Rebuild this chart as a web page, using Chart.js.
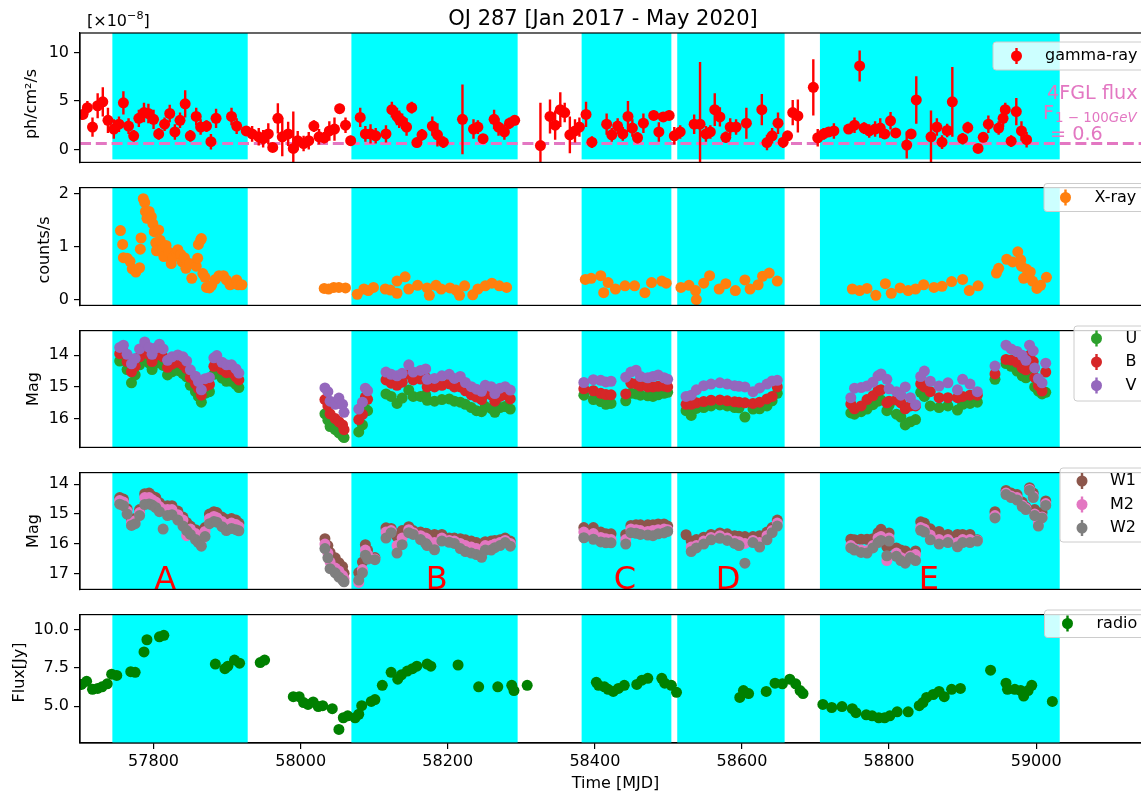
<!DOCTYPE html>
<html>
<head>
<meta charset="utf-8">
<title>OJ 287 multiwavelength light curve</title>
<script src="https://cdn.jsdelivr.net/npm/chart.js@4.4.1/dist/chart.umd.min.js"></script>
<style>
  body { margin: 0; background: #fff; }
  #fig { position: relative; width: 1141px; height: 791px; overflow: hidden; background: #fff; }
  #fig canvas { position: absolute; left: 0; }
</style>
</head>
<body>
<div id="fig"></div>
<script>
// shaded periods A-E (MJD)
const spanStart = [57744, 58069, 58382, 58512, 58706];
const spanEnd   = [57928, 58295, 58504, 58658, 59032];
const spanNames = ['A', 'B', 'C', 'D', 'E'];
const spanLabelMJD = [57816, 58185, 58441, 58581, 58854];
const xTicks = [57800, 58000, 58200, 58400, 58600, 58800, 59000];
const xMin = 57700, xMax = 59150;
const fglFlux = 0.6; // 4FGL flux, 1e-8 ph/cm2/s

// Fermi-LAT gamma-ray flux [1e-8 ph/cm2/s]
const gammaMJD = [57704,57710,57717,57724,57731,57738,57746,57753,57759,57766,
  57773,57780,57787,57793,57800,57807,57815,57822,57829,57836,
  57843,57850,57858,57864,57872,57878,57885,57906,57913,57926,
  57934,57943,57949,57956,57962,57969,57975,57983,57990,57996,
  58004,58011,58018,58025,58032,58039,58046,58053,58061,58068,
  58081,58088,58095,58102,58116,58124,58131,58134,58138,58144,
  58151,58158,58165,58179,58186,58194,58220,58235,58241,58248,
  58263,58269,58277,58284,58291,58326,58339,58346,58353,58359,
  58366,58373,58379,58388,58396,58416,58423,58431,58438,58445,
  58451,58458,58466,58480,58487,58493,58501,58508,58516,58535,
  58543,58551,58557,58563,58570,58578,58584,58592,58606,58627,
  58634,58641,58649,58656,58662,58669,58676,58697,58703,58711,
  58718,58725,58745,58753,58760,58766,58773,58781,58788,58794,
  58802,58809,58824,58830,58837,58857,58865,58872,58879,58886,
  58900,58907,58921,58928,58935,58949,58955,58958,58966,58973,
  58980,58987];
const gammaFlux = [3.6,4.3,2.3,4.5,4.9,3.0,2.1,2.6,4.8,2.4,
  1.4,3.2,3.8,3.7,3.1,1.6,2.6,3.7,1.8,3.0,
  4.7,1.4,3.4,2.3,2.4,0.8,3.2,3.4,2.4,1.9,
  1.6,1.3,1.1,1.6,0.2,3.2,1.3,1.6,0.1,0.9,
  0.6,0.9,2.4,1.3,1.2,1.9,2.1,4.2,2.5,0.9,
  3.3,1.6,1.6,1.4,1.6,4.1,3.4,3.1,2.9,2.3,
  4.3,0.7,1.5,2.4,1.5,0.75,3.1,2.1,2.3,1.1,
  3.1,2.3,1.8,2.7,3.0,0.4,3.4,2.5,4.1,3.8,
  1.5,1.9,2.3,3.6,0.75,2.6,1.5,2.4,1.6,3.4,
  2.2,1.2,2.7,3.5,1.8,3.35,3.5,1.4,1.8,2.6,
  2.6,1.6,1.8,4.1,3.35,1.25,2.3,2.3,2.7,4.1,
  0.7,1.4,2.7,0.75,1.4,3.8,3.45,6.4,1.2,1.6,
  1.8,1.9,2.1,2.5,8.6,2.2,1.9,2.1,2.2,1.6,
  2.95,1.7,0.45,1.6,5.1,1.3,2.3,0.75,1.95,4.9,
  1.1,2.25,0.1,1.25,2.6,2.2,3.2,4.1,0.85,3.9,
  1.9,1.0];
const gammaErr = [0.5,0.7,1.0,1.3,1.5,1.3,1.0,0.8,1.2,0.8,
  0.6,0.9,1.0,1.0,1.0,0.6,0.7,0.9,0.8,0.8,
  1.4,0.6,0.9,0.8,0.6,0.8,1.0,0.9,0.8,0.5,
  0.8,0.9,0.9,1.1,0.3,1.55,2.0,1.25,3.8,1.0,
  0.8,0.9,0.6,0.8,0.6,1.0,1.2,0.5,0.8,0.5,
  1.0,0.8,1.0,0.8,0.9,0.8,0.9,0.9,0.8,0.9,
  0.6,0.5,0.6,1.0,1.2,0.6,3.6,1.0,0.7,0.5,
  1.0,0.9,0.8,0.6,0.5,4.4,1.75,1.5,1.8,1.0,
  1.9,1.2,1.0,1.3,0.6,1.1,0.7,0.8,0.7,1.6,
  0.9,0.6,1.0,0.5,1.0,0.5,0.5,0.9,0.7,1.0,
  6.4,0.8,0.7,1.7,1.0,0.6,0.9,0.8,1.6,1.6,
  0.8,0.8,1.1,0.6,0.5,1.3,1.7,2.9,0.9,0.6,
  0.5,0.8,0.5,0.8,1.6,0.6,0.7,0.8,1.0,0.5,
  0.9,0.5,1.4,0.4,2.45,2.7,0.9,0.7,0.7,3.6,
  0.6,0.6,0.3,0.5,0.9,0.7,0.9,0.7,0.6,1.4,
  1.0,0.8];

// Swift-XRT count rate
const xrayMJD = [57755,57758,57759,57764,57768,57771,57776,57781,57782,57783,
  57786,57788,57789,57791,57794,57797,57799,57801,57803,57804,
  57807,57809,57812,57814,57817,57821,57824,57826,57831,57833,
  57837,57839,57842,57844,57849,57852,57858,57860,57861,57864,
  57865,57867,57870,57872,57876,57879,57884,57889,57895,57899,
  57904,57908,57913,57915,57920,
  58032,58038,58045,58052,58061,58077,58086,58092,58099,58115,
  58122,58131,58131,58142,58147,58159,58172,58175,58184,58191,
  58203,58211,58216,58223,58234,58241,58251,58260,58270,58280,
  58387,58395,58408,58412,58418,58428,58441,58454,58468,58477,58491,58497,
  58517,58528,58537,58538,58548,58556,58569,58578,58591,58604,58611,58622,58628,58637,58648,
  58750,58760,58770,58782,58795,58803,58815,58826,58836,58847,
  58861,58872,58885,58900,58909,58921,58946,58949,58960,58968,
  58975,58979,58980,58983,58987,58992,58995,59001,59006,59014];
const xrayRate = [1.30,1.04,0.79,0.78,0.72,0.58,0.52,0.60,0.95,1.16,
  1.90,1.83,1.66,1.53,1.66,1.56,1.43,1.28,1.07,0.92,
  1.31,1.12,0.94,0.81,1.02,0.89,0.68,0.79,0.89,0.94,
  0.85,0.71,0.79,0.59,0.68,0.40,0.63,0.78,1.04,1.12,
  1.15,0.49,0.42,0.23,0.22,0.27,0.38,0.45,0.45,0.37,
  0.28,0.30,0.37,0.28,0.28,
  0.21,0.20,0.23,0.23,0.22,0.10,0.20,0.17,0.23,0.20,
  0.18,0.35,0.12,0.43,0.20,0.27,0.22,0.08,0.27,0.20,
  0.22,0.18,0.08,0.26,0.09,0.20,0.26,0.31,0.26,0.23,
  0.38,0.40,0.45,0.13,0.32,0.20,0.26,0.26,0.13,0.32,0.35,0.31,
  0.23,0.27,0.17,0.00,0.31,0.45,0.20,0.30,0.17,0.37,0.20,0.28,0.44,0.50,0.35,
  0.20,0.17,0.21,0.08,0.30,0.12,0.22,0.17,0.20,0.28,
  0.23,0.25,0.34,0.38,0.17,0.26,0.50,0.59,0.76,0.71,
  0.90,0.75,0.63,0.40,0.57,0.52,0.35,0.21,0.27,0.42];

// Swift-UVOT epochs (shared by the six filters), magnitudes
const uvotMJD = [57754,57759,57764,57770,57775,57781,57788,57794,57798,57803,57808,57813,57819,57825,57833,57840,57845,57850,57857,57861,57865,57870,57876,57882,57886,57893,57899,57906,57912,57916,
  58033,58037,58040,58047,58052,58057,58059,
  58079,58084,58088,58091,58101,
  58116,58123,58131,58138,58147,58153,58163,58170,58172,58182,58192,58202,58209,58217,58224,58232,58239,58246,58251,58259,58264,58271,58278,58285,
  58385,58398,58408,58415,58422,58442,58449,58456,58462,58472,58479,58486,58494,58499,
  58524,58531,58538,58548,58558,58570,58580,58590,58596,58604,58615,58624,58634,58641,58648,
  58748,58753,58762,58770,58778,58785,58789,58797,58800,58810,58816,58822,58829,58836,58843,58848,58856,58868,58880,58893,58900,58910,58920,58944,58959,58966,58974,58981,58986,58991,58996,58998,59003,59008,59013];
const magV = [13.75,13.68,13.97,14.27,14.10,13.80,13.58,13.75,13.97,13.77,13.65,13.80,14.16,14.05,13.99,14.05,14.18,14.46,14.66,14.83,15.09,14.74,14.70,14.08,14.01,14.22,14.30,14.30,14.43,14.56,
  15.03,15.15,15.45,15.55,15.35,15.55,15.80,
  15.70,15.48,15.04,15.12,null,
  14.53,14.60,14.65,14.57,14.30,14.53,14.48,14.43,14.76,14.73,14.65,14.60,14.73,14.67,14.86,14.99,15.07,15.14,14.95,14.99,15.21,15.04,14.99,15.10,
  14.86,14.77,14.79,14.84,14.82,14.69,14.53,14.47,14.67,14.71,14.67,14.62,14.71,14.76,
  15.30,15.26,15.09,14.96,14.91,14.87,14.91,14.96,14.98,15.00,15.15,15.03,14.91,14.81,14.79,
  15.34,15.04,15.02,14.97,14.85,14.65,14.59,14.76,15.06,15.15,15.26,15.00,15.34,15.56,14.67,14.50,14.82,14.97,14.87,15.09,14.76,14.91,15.15,14.34,13.68,13.80,13.88,14.00,14.16,13.68,13.86,14.40,14.74,14.87,14.25];
const magB = [13.95,13.90,14.20,14.52,14.35,14.05,13.85,13.98,14.20,14.00,13.90,14.05,14.38,14.28,14.22,14.30,14.42,14.70,14.90,15.05,15.26,14.98,14.92,14.35,14.25,14.45,14.55,14.55,14.68,14.78,
  15.40,15.60,15.85,16.00,16.10,16.20,16.35,
  16.03,15.87,15.32,15.39,null,
  14.78,14.88,14.95,14.85,14.60,14.78,14.75,14.70,15.00,15.00,14.95,14.90,15.00,15.00,15.12,15.25,15.32,15.40,15.22,15.25,15.45,15.30,15.25,15.38,
  15.06,15.12,15.20,15.24,15.25,15.22,14.88,14.90,14.97,15.00,15.00,14.98,14.97,15.00,
  15.55,15.55,15.50,15.46,15.42,15.41,15.44,15.47,15.48,15.50,15.52,15.48,15.38,15.30,15.00,
  15.54,15.69,15.60,15.40,15.28,15.12,15.09,15.50,15.45,15.41,15.50,15.69,15.60,15.60,14.90,15.00,15.15,15.34,15.34,15.34,15.30,15.26,15.26,14.59,14.13,14.15,14.22,14.40,14.46,14.00,14.20,14.70,14.96,15.13,14.53];
const magU = [14.18,14.15,14.45,14.87,14.62,14.30,14.12,14.25,14.45,14.25,14.15,14.32,14.62,14.52,14.48,14.58,14.68,14.95,15.15,15.30,15.48,15.20,15.15,14.60,14.50,14.72,14.82,14.82,14.92,15.02,
  15.85,16.05,16.25,16.35,16.45,16.55,16.60,
  16.42,16.20,15.70,15.75,null,
  15.22,15.30,15.52,15.35,15.10,15.30,15.30,15.25,15.42,15.45,15.40,15.38,15.45,15.48,15.55,15.65,15.75,15.78,15.62,15.68,15.80,15.65,15.62,15.70,
  15.26,15.40,15.46,15.55,15.52,15.44,15.20,15.22,15.26,15.28,15.30,15.25,15.20,15.17,
  15.75,15.90,15.68,15.65,15.60,15.57,15.60,15.65,15.66,15.95,15.70,15.69,15.60,15.44,15.20,
  15.82,15.86,15.78,15.70,15.56,15.45,15.41,15.75,15.58,15.86,15.95,16.20,16.10,16.03,15.17,15.30,15.60,15.65,15.60,15.73,15.55,15.52,15.48,14.76,14.26,14.35,14.50,14.65,14.71,14.22,14.45,15.00,15.13,15.22,15.17];
const magW1 = [14.45,14.50,14.82,15.20,15.15,14.85,14.32,14.30,14.40,14.45,14.62,14.75,14.72,14.72,14.90,15.10,15.28,15.40,15.52,15.65,15.75,15.45,15.00,14.92,14.95,15.10,15.18,15.15,15.20,15.30,
  15.82,16.05,16.28,16.46,16.62,16.75,16.97,
  16.95,16.60,16.02,16.20,16.45,
  15.46,15.48,15.75,15.55,15.42,15.55,15.60,15.64,15.66,15.68,15.68,15.80,15.80,15.82,15.86,15.90,15.95,16.00,15.92,15.90,15.88,15.86,15.80,15.90,
  15.45,15.45,15.60,15.66,15.66,15.68,15.38,15.36,15.36,15.36,15.36,15.33,15.33,15.40,
  15.69,15.90,15.85,15.77,15.68,15.63,15.66,15.72,15.74,15.75,15.75,15.72,15.60,15.45,15.20,
  15.84,15.86,15.84,15.84,15.82,15.62,15.51,16.09,15.63,16.13,16.20,16.23,16.36,16.23,15.26,15.30,15.49,15.58,15.68,15.68,15.68,15.68,15.86,14.92,14.21,14.30,14.35,14.60,14.76,14.12,14.30,14.85,15.10,14.95,14.56];
const magM2 = [14.55,14.60,14.90,15.28,15.22,14.95,14.45,14.45,14.52,14.60,14.75,14.85,14.85,14.85,15.02,15.20,15.72,15.50,15.65,15.78,15.90,15.58,15.15,15.08,15.12,15.25,15.35,15.30,15.35,15.42,
  16.00,16.30,16.60,16.80,16.90,17.05,17.15,
  17.28,16.85,16.20,16.35,16.50,
  15.60,15.55,16.05,15.80,15.52,15.62,15.72,15.80,15.85,15.95,15.80,15.88,15.90,15.98,16.05,16.10,16.15,16.22,16.05,16.05,16.00,15.95,15.88,15.98,
  15.60,15.65,15.78,15.82,15.85,15.85,15.50,15.52,15.55,15.58,15.55,15.52,15.50,15.52,
  null,16.10,16.05,15.90,15.78,15.72,15.80,15.90,15.92,15.98,15.88,15.95,15.72,15.55,15.30,
  16.05,16.15,16.20,16.22,16.05,15.80,15.75,16.55,15.80,16.30,16.45,16.50,16.40,16.35,15.45,15.50,15.70,15.85,15.85,15.95,15.85,15.85,15.88,15.05,14.30,14.40,14.45,14.70,14.80,14.18,14.40,15.00,15.30,15.10,14.65];
const magW2 = [14.67,14.72,15.00,15.38,15.32,15.05,14.68,14.66,14.70,14.78,14.92,15.50,15.05,15.02,15.20,15.40,15.55,15.68,15.85,15.95,16.07,15.75,15.32,15.25,15.27,15.42,15.55,15.48,15.52,15.56,
  16.15,16.46,16.82,16.96,17.10,17.20,17.26,
  17.20,16.96,16.37,16.50,16.52,
  15.80,15.62,16.30,16.02,15.62,15.68,15.85,15.98,16.05,16.19,15.90,15.94,15.98,16.15,16.25,16.30,16.35,16.44,16.20,16.20,16.12,16.05,15.95,16.07,
  15.79,15.84,15.93,15.96,15.96,16.00,15.62,15.64,15.68,15.70,15.72,15.66,15.63,15.58,
  null,16.25,16.13,16.00,15.86,15.81,15.88,15.98,16.05,16.64,15.95,16.10,15.86,15.62,15.40,
  16.13,16.20,16.28,16.30,16.13,15.95,15.88,16.39,15.90,16.41,16.55,16.64,16.45,16.55,15.54,15.60,15.86,16.00,15.95,16.09,15.95,15.95,15.90,15.13,14.35,14.45,14.53,14.75,14.85,14.21,14.45,15.05,15.40,15.13,14.71];

// radio flux [Jy]
const radioMJD = [57702,57709,57717,57724,57730,57737,57743,57750,57769,57775,
  57787,57791,57808,57814,57884,57897,57901,57910,57917,57945,
  57951,57990,57998,58004,58010,58017,58024,58030,58043,58052,
  58058,58064,58074,58079,58083,58096,58101,58111,58123,58132,
  58137,58145,58152,58158,58172,58177,58214,58242,58268,58287,
  58290,58308,58402,58405,58413,58418,58425,58432,58440,58457,
  58464,58472,58491,58495,58504,58511,58597,58602,58609,58633,
  58645,58655,58665,58673,58679,58683,58710,58722,58736,58750,
  58755,58769,58777,58786,58794,58801,58811,58826,58841,58846,
  58851,58860,58868,58875,58885,58897,58938,58959,58961,58971,
  58979,58983,58989,58994,59022];
const radioFlux = [6.43,6.63,6.11,6.17,6.27,6.47,7.10,7.02,7.26,7.22,
  8.55,9.35,9.54,9.64,7.76,7.46,7.62,8.02,7.82,7.86,
  8.02,5.63,5.63,5.24,5.12,5.28,4.98,5.04,4.84,3.49,
  4.25,4.38,4.25,4.48,5.04,5.32,5.44,6.37,7.22,6.77,
  7.06,7.30,7.46,7.62,7.76,7.62,7.70,6.27,6.27,6.37,
  6.03,6.37,6.57,6.37,6.27,6.11,5.97,6.17,6.37,6.43,
  6.71,6.83,6.83,6.51,6.37,5.91,5.58,6.03,5.83,5.97,
  6.51,6.47,6.77,6.47,6.03,5.83,5.12,4.92,4.98,4.84,
  4.58,4.44,4.38,4.25,4.25,4.38,4.64,4.64,5.04,5.24,
  5.58,5.77,5.97,5.63,6.11,6.17,7.36,6.51,6.11,6.11,
  6.03,5.67,6.03,6.37,5.32];

const FONT = '"DejaVu Sans", sans-serif';
const PINK = '#e377c2';

function pts(xs, ys) {
  return xs.map((x, i) => ({ x: x, y: ys[i] })).filter(p => p.y !== null);
}

function yLabel(ctx, text, x, y) {
  ctx.save();
  ctx.translate(x, y);
  ctx.rotate(-Math.PI / 2);
  ctx.font = '16px ' + FONT;
  ctx.fillStyle = '#000';
  ctx.textAlign = 'center';
  ctx.textBaseline = 'middle';
  ctx.fillText(text, 0, 0);
  ctx.restore();
}

function drawLegend(ctx, lg) {
  ctx.save();
  ctx.beginPath();
  ctx.roundRect(lg.x, lg.y, 1150 - lg.x, lg.h, 3);
  ctx.fillStyle = 'rgba(255,255,255,0.8)';
  ctx.fill();
  ctx.strokeStyle = '#cccccc';
  ctx.lineWidth = 1;
  ctx.stroke();
  ctx.font = '16px ' + FONT;
  ctx.textAlign = 'left';
  ctx.textBaseline = 'middle';
  lg.items.forEach(it => {
    ctx.strokeStyle = it.c;
    ctx.fillStyle = it.c;
    ctx.lineWidth = 2.4;
    ctx.beginPath();
    ctx.moveTo(lg.mx, it.y - 8);
    ctx.lineTo(lg.mx, it.y + 8);
    ctx.stroke();
    ctx.beginPath();
    ctx.arc(lg.mx, it.y, 5.5, 0, Math.PI * 2);
    ctx.fill();
    ctx.fillStyle = '#000';
    ctx.fillText(it.t, lg.tx, it.y);
  });
  ctx.restore();
}

function panelPlugin(p) {
  return {
    id: 'panel',
    beforeDatasetsDraw(chart) {
      const ctx = chart.ctx, a = chart.chartArea;
      const xs = chart.scales.x, ys = chart.scales.y;
      ctx.save();
      ctx.beginPath();
      ctx.rect(a.left, a.top, a.right - a.left, a.bottom - a.top);
      ctx.clip();
      const yb = p.spanFloor !== undefined ? ys.getPixelForValue(p.spanFloor) : a.bottom;
      ctx.fillStyle = '#00ffff';
      spanStart.forEach((s, i) => {
        const x0 = xs.getPixelForValue(s), x1 = xs.getPixelForValue(spanEnd[i]);
        ctx.fillRect(x0, a.top, x1 - x0, yb - a.top);
      });
      if (p.under) p.under(chart, ctx, xs, ys);
      ctx.restore();
    },
    afterDraw(chart) {
      const ctx = chart.ctx, a = chart.chartArea;
      ctx.save();
      if (p.over) p.over(chart, ctx, chart.scales.x, chart.scales.y);
      ctx.strokeStyle = '#000';
      ctx.lineWidth = 1.2;
      ctx.strokeRect(a.left, a.top, a.right - a.left, a.bottom - a.top);
      ctx.translate(0, -p.cTop);
      yLabel(ctx, p.ylabel, p.lx, p.ly);
      if (p.texts) p.texts(ctx);
      drawLegend(ctx, p.legend);
      ctx.restore();
    }
  };
}

function makePanel(p) {
  const cv = document.createElement('canvas');
  cv.width = 1152;
  cv.height = p.h;
  cv.style.width = '1152px';
  cv.style.height = p.h + 'px';
  cv.style.top = p.cTop + 'px';
  document.getElementById('fig').appendChild(cv);
  const tickFont = { family: FONT, size: 16 };
  return new Chart(cv, {
    type: 'scatter',
    data: {
      datasets: p.sets.map(s => ({
        label: s.label,
        data: pts(s.x, s.y),
        backgroundColor: s.color,
        borderColor: s.color,
        borderWidth: 0,
        pointRadius: 5.5,
        pointHoverRadius: 5.5,
        order: s.order || 0,
        clip: 0
      }))
    },
    options: {
      responsive: false,
      maintainAspectRatio: false,
      animation: false,
      devicePixelRatio: 1,
      events: [],
      layout: { padding: { left: 0, right: 1, top: p.padTop, bottom: p.padBottom } },
      scales: {
        x: {
          type: 'linear', min: xMin, max: xMax, display: !!p.showX,
          afterBuildTicks: s => { s.ticks = xTicks.map(v => ({ value: v })); },
          afterFit: s => { if (p.showX) s.height = 48; },
          ticks: { font: tickFont, color: '#000', padding: 3, maxRotation: 0, callback: v => String(v) },
          grid: { drawOnChartArea: false, tickLength: 6, color: '#000', lineWidth: 1.2 },
          border: { color: '#000', width: 1.2 }
        },
        y: {
          type: 'linear', min: p.yMin, max: p.yMax, reverse: !!p.reverse,
          afterBuildTicks: s => { s.ticks = p.yTicks.map(v => ({ value: v })); },
          afterFit: s => { s.width = 80; },
          ticks: { font: tickFont, color: '#000', padding: 5, callback: p.fmt || (v => String(v)) },
          grid: { drawOnChartArea: false, tickLength: 6, color: '#000', lineWidth: 1.2 },
          border: { color: '#000', width: 1.2 }
        }
      },
      plugins: { legend: { display: false }, tooltip: { enabled: false } }
    },
    plugins: [panelPlugin(p)]
  });
}

// gamma-ray
makePanel({
  cTop: 0, h: 177, padTop: 33, padBottom: 2,
  yMin: -1.34, yMax: 12.0, yTicks: [0, 5, 10], spanFloor: -1.03,
  sets: [{ label: 'gamma-ray', x: gammaMJD, y: gammaFlux, color: '#ff0000' }],
  ylabel: 'ph/cm²/s', lx: 32, ly: 104,
  legend: { x: 993, y: 42, h: 28, mx: 1016.5, tx: 1045, items: [{ t: 'gamma-ray', c: '#ff0000', y: 56 }] },
  under(chart, ctx, xs, ys) {
    const a = chart.chartArea;
    const yy = ys.getPixelForValue(fglFlux);
    ctx.strokeStyle = PINK;
    ctx.lineWidth = 3;
    ctx.setLineDash([11, 4.8]);
    ctx.beginPath();
    ctx.moveTo(a.left, yy);
    ctx.lineTo(a.right, yy);
    ctx.stroke();
    ctx.setLineDash([]);
    ctx.strokeStyle = '#ff0000';
    ctx.lineWidth = 2.4;
    gammaMJD.forEach((t, i) => {
      const x = xs.getPixelForValue(t);
      ctx.beginPath();
      ctx.moveTo(x, ys.getPixelForValue(gammaFlux[i] - gammaErr[i]));
      ctx.lineTo(x, ys.getPixelForValue(gammaFlux[i] + gammaErr[i]));
      ctx.stroke();
    });
  },
  texts(ctx) {
    ctx.fillStyle = '#000';
    ctx.textAlign = 'center';
    ctx.textBaseline = 'alphabetic';
    ctx.font = '21px ' + FONT;
    ctx.fillText('OJ 287 [Jan 2017 - May 2020]', 603, 24.5);
    // offset text
    ctx.textAlign = 'left';
    ctx.font = '16px ' + FONT;
    let ox = 87;
    ctx.fillText('[×10', ox, 26);
    ox += ctx.measureText('[×10').width;
    ctx.font = '11.2px ' + FONT;
    ctx.fillText('−8', ox, 19);
    ox += ctx.measureText('−8').width;
    ctx.font = '16px ' + FONT;
    ctx.fillText(']', ox, 26);
    // 4FGL annotation
    ctx.fillStyle = PINK;
    ctx.font = '19.2px ' + FONT;
    ctx.fillText('4FGL flux', 1047, 98.5);
    ctx.fillText('F', 1043, 118.5);
    ctx.font = '13.4px ' + FONT;
    let sx = 1055;
    ctx.fillText('1 − 100', sx, 122);
    sx += ctx.measureText('1 − 100').width;
    ctx.font = 'italic 13.4px ' + FONT;
    ctx.fillText('GeV', sx, 122);
    ctx.font = '19.2px ' + FONT;
    ctx.fillText('= 0.6', 1050, 140);
  }
});

// X-ray
makePanel({
  cTop: 173, h: 147, padTop: 2, padBottom: 2,
  yMin: -0.109, yMax: 2.109, yTicks: [0, 1, 2],
  sets: [{ label: 'X-ray', x: xrayMJD, y: xrayRate, color: '#ff7f0e' }],
  ylabel: 'counts/s', lx: 45, ly: 250,
  legend: { x: 1044, y: 183.5, h: 28, mx: 1065.5, tx: 1094.5, items: [{ t: 'X-ray', c: '#ff7f0e', y: 197.5 }] }
});

// U, B, V
makePanel({
  cTop: 316, h: 146, padTop: 2, padBottom: 2,
  yMin: 13.22, yMax: 16.91, reverse: true, yTicks: [14, 15, 16],
  sets: [
    { label: 'U', x: uvotMJD, y: magU, color: '#2ca02c', order: 2 },
    { label: 'B', x: uvotMJD, y: magB, color: '#d62728', order: 1 },
    { label: 'V', x: uvotMJD, y: magV, color: '#9467bd', order: 0 }
  ],
  ylabel: 'Mag', lx: 34, ly: 389,
  legend: { x: 1074, y: 326, h: 75, mx: 1096.5, tx: 1125.5, items: [
    { t: 'U', c: '#2ca02c', y: 338.5 },
    { t: 'B', c: '#d62728', y: 362 },
    { t: 'V', c: '#9467bd', y: 385.5 }
  ] }
});

// W1, M2, W2
makePanel({
  cTop: 458, h: 146, padTop: 2, padBottom: 2,
  yMin: 13.616, yMax: 17.513, reverse: true, yTicks: [14, 15, 16, 17],
  sets: [
    { label: 'W1', x: uvotMJD, y: magW1, color: '#8c564b', order: 2 },
    { label: 'M2', x: uvotMJD, y: magM2, color: '#e377c2', order: 1 },
    { label: 'W2', x: uvotMJD, y: magW2, color: '#7f7f7f', order: 0 }
  ],
  ylabel: 'Mag', lx: 34, ly: 531,
  legend: { x: 1060, y: 468, h: 74, mx: 1082, tx: 1110, items: [
    { t: 'W1', c: '#8c564b', y: 481 },
    { t: 'M2', c: '#e377c2', y: 504.5 },
    { t: 'W2', c: '#7f7f7f', y: 528 }
  ] },
  over(chart, ctx, xs) {
    const a = chart.chartArea;
    ctx.save();
    ctx.beginPath();
    ctx.rect(a.left, a.top, a.right - a.left, a.bottom - a.top);
    ctx.clip();
    ctx.fillStyle = '#ff0000';
    ctx.font = '32px ' + FONT;
    ctx.textAlign = 'center';
    ctx.textBaseline = 'alphabetic';
    spanNames.forEach((n, i) => ctx.fillText(n, xs.getPixelForValue(spanLabelMJD[i]), a.bottom - 0.3));
    ctx.restore();
  }
});

// radio
makePanel({
  cTop: 600, h: 191, padTop: 2, padBottom: 0, showX: true,
  yMin: 2.6, yMax: 10.994, yTicks: [5, 7.5, 10], fmt: v => v.toFixed(1),
  sets: [{ label: 'radio', x: radioMJD, y: radioFlux, color: '#008000' }],
  ylabel: 'Flux[Jy]', lx: 19.5, ly: 672.5,
  legend: { x: 1044.5, y: 610, h: 27.5, mx: 1067.5, tx: 1096.5, items: [{ t: 'radio', c: '#008000', y: 623.5 }] },
  texts(ctx) {
    ctx.fillStyle = '#000';
    ctx.font = '16px ' + FONT;
    ctx.textAlign = 'center';
    ctx.textBaseline = 'alphabetic';
    ctx.fillText('Time [MJD]', 615.5, 788);
  }
});
</script>
</body>
</html>
